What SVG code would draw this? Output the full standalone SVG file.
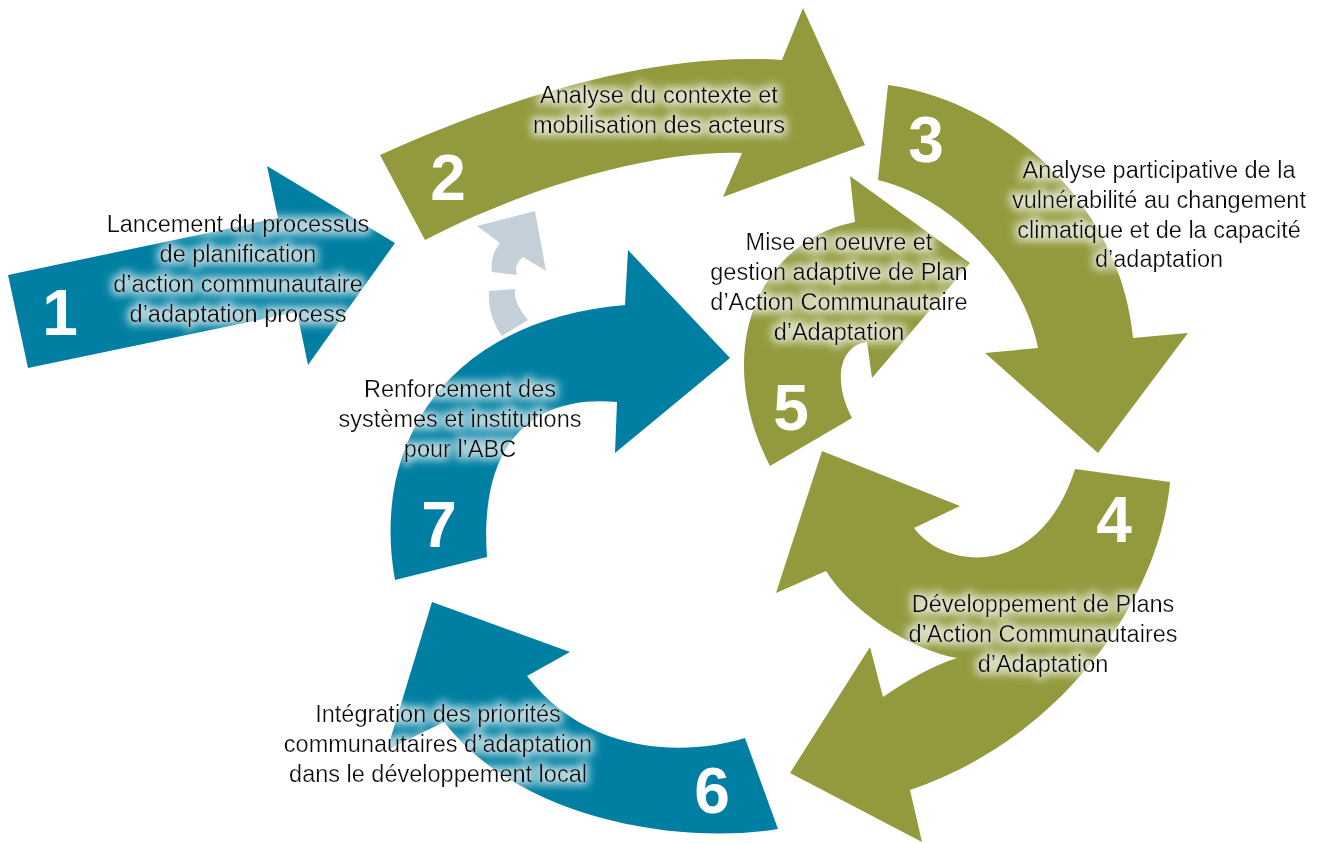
<svg xmlns="http://www.w3.org/2000/svg" width="1324" height="843" viewBox="0 0 1324 843">
<defs>
<style>
.teal{fill:#007FA2;}
.olive{fill:#939A3E;}
.grey{fill:#C4CFD8;}
.num{font-family:"Liberation Sans",Arial,sans-serif;font-weight:bold;font-size:64px;fill:#fff;text-anchor:middle;}
.lbl{font-family:"Liberation Sans",Arial,sans-serif;font-size:23.5px;fill:#111;text-anchor:middle;filter:url(#glow);}
</style>
<filter id="glow" x="-20%" y="-40%" width="140%" height="180%">
<feMorphology in="SourceAlpha" operator="dilate" radius="3" result="d"/>
<feGaussianBlur in="d" stdDeviation="4.5" result="b"/>
<feFlood flood-color="#ffffff" flood-opacity="0.7"/>
<feComposite in2="b" operator="in" result="g"/>
<feMerge><feMergeNode in="g"/><feMergeNode in="SourceGraphic"/></feMerge>
</filter>
</defs>
<rect width="1324" height="843" fill="#fff"/>

<g id="connectors">
<path class="grey" d="M500,243 L477,226 L535,211 L546,271 L523,257 C516,263 515,268 517,275 L492,272 C490,262 494,250 500,243 Z"/>
<path class="grey" d="M489,291 L515,289 C514,298 518,308 528,320 L502,336 C492,322 488,306 489,291 Z"/>
</g>

<g id="node1">
<polygon class="teal" points="8,275 278,218 267,166 395,243 308,365 297,312 28,368"/>
<text class="num" x="60" y="335">1</text>
<text class="lbl" x="238"><tspan x="238" y="232">Lancement du processus</tspan><tspan x="238" y="262">de planification</tspan><tspan x="238" y="292">d’action communautaire</tspan><tspan x="238" y="322">d’adaptation process</tspan></text>
</g>

<g id="node2">
<path class="olive" d="M380,155 C480,110 640,50 782,60 L803,8 L865,145 L723,197 L742,153 C650,150 520,190 425,240 Z"/>
<text class="num" x="448" y="200">2</text>
<text class="lbl"><tspan x="659" y="103">Analyse du contexte et</tspan><tspan x="659" y="133">mobilisation des acteurs</tspan></text>
</g>

<g id="node3">
<path class="olive" d="M888,85 C1000,100 1120,200 1133,338 L1188,333 L1098,453 L985,353 L1038,348 C1025,280 960,200 878,180 Z"/>
<text class="num" x="926" y="162">3</text>
<text class="lbl"><tspan x="1159" y="178">Analyse participative de la</tspan><tspan x="1159" y="208">vulnérabilité au changement</tspan><tspan x="1159" y="238">climatique et de la capacité</tspan><tspan x="1159" y="267">d’adaptation</tspan></text>
</g>

<g id="node4">
<path class="olive" d="M1075,469 L1170,482 C1160,600 1060,740 910,790 L922,842 L790,773 L870,647 L883,697 Q925,668 957,658 C910,650 850,610 826,571 L776,593 L822,451 L960,506 L914,528 C945,570 1040,580 1075,469 Z"/>
<text class="num" x="1114" y="542">4</text>
<text class="lbl"><tspan x="1043" y="612">Développement de Plans</tspan><tspan x="1043" y="642">d’Action Communautaires</tspan><tspan x="1043" y="672">d’Adaptation</tspan></text>
</g>

<g id="node5">
<path class="olive" d="M770,466 C710,350 760,240 855,222 L850,176 L970,263 L872,378 L867,342 C840,345 832,380 852,418 Z"/>
<text class="num" x="791" y="430">5</text>
<text class="lbl"><tspan x="839" y="250">Mise en oeuvre et</tspan><tspan x="839" y="280">gestion adaptive de Plan</tspan><tspan x="839" y="310">d’Action Communautaire</tspan><tspan x="839" y="340">d’Adaptation</tspan></text>
</g>

<g id="node6">
<path class="teal" d="M745,738 L778,829 C680,845 520,820 444,722 L387,750 L432,602 L570,652 L527,676 C585,752 680,758 745,738 Z"/>
<text class="num" x="712" y="813">6</text>
<text class="lbl"><tspan x="438" y="722">Intégration des priorités</tspan><tspan x="438" y="752">communautaires d’adaptation</tspan><tspan x="438" y="782">dans le développement local</tspan></text>
</g>

<g id="node7">
<path class="teal" d="M395,580 C370,440 450,320 625,305 L628,250 L730,358 L615,453 L617,402 C545,395 478,430 487,557 Z"/>
<text class="num" x="439" y="547">7</text>
<text class="lbl"><tspan x="460" y="397">Renforcement des</tspan><tspan x="460" y="427">systèmes et institutions</tspan><tspan x="460" y="457">pour l’ABC</tspan></text>
</g>
</svg>
